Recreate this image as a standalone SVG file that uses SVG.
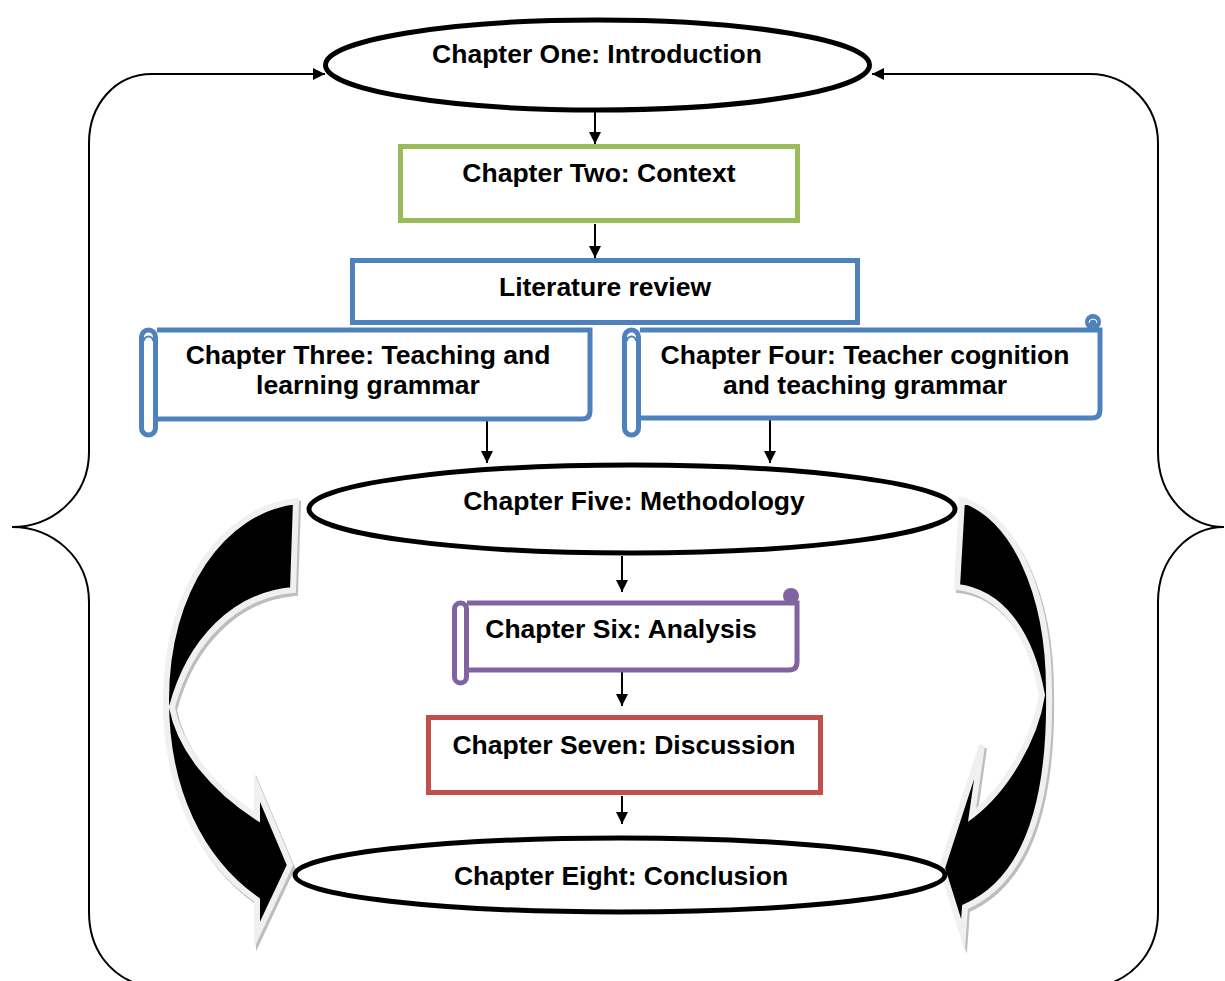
<svg xmlns="http://www.w3.org/2000/svg" width="1225" height="981" viewBox="0 0 1225 981">
<defs>
<style>
.t{font-family:"Liberation Sans",Arial,sans-serif;font-weight:bold;font-size:26.5px;fill:#000;text-anchor:middle}
.ell{fill:#fff;stroke:#000;stroke-width:5}
.conn{stroke:#000;stroke-width:2;fill:none}
.brace{stroke:#000;stroke-width:2;fill:none}
.bigarrow{fill:#000;stroke:#F0F0F0;stroke-width:6;stroke-linejoin:miter;stroke-miterlimit:10}
.shadow{fill:#BDBDBD;stroke:#BDBDBD;stroke-width:6;stroke-linejoin:miter;stroke-miterlimit:10}
.blue{stroke:#4F81BD}
.purple{stroke:#8064A2}
</style>
<marker id="ah" markerUnits="userSpaceOnUse" markerWidth="12" markerHeight="14" refX="12" refY="6" orient="auto">
<path d="M0,0 L12,6 L0,12 Z" fill="#000"/>
</marker>
</defs>
<rect width="1225" height="981" fill="#fff"/>

<g id="braces">
<path class="brace" d="M152 74 C115 74 89 105 89 143 V452 C89 497 52 527 12 527 C52 527 89 557 89 602 V912 C89 950 110 975 140 985"/>
<path class="brace" d="M1090 74 C1128 74 1158 105 1158 143 V452 C1158 497 1190 527 1224 527 C1190 527 1158 557 1158 602 V912 C1158 950 1136 975 1106 985"/>
</g>

<g id="big-arrows">
<g transform="translate(2,3)">
<path class="shadow" d="M296 501 C222 510 166 590 166 700 C166 790 200 860 257 900 L257 935 L290 865 L257 787 L257 817 C215 790 180 750 172 707 C190 640 235 595 293 590 Z"/>
<path class="shadow" d="M962 500 C1012 515 1049 590 1049 690 C1051 800 1027 880 965 907 L963 935 L942 868 L982 745 L972 815 C1005 790 1035 740 1042 695 C1030 630 1000 592 957 587 Z"/>
</g>
<path class="bigarrow" d="M296 501 C222 510 166 590 166 700 C166 790 200 860 257 900 L257 935 L290 865 L257 787 L257 817 C215 790 180 750 172 707 C190 640 235 595 293 590 Z"/>
<path class="bigarrow" d="M962 500 C1012 515 1049 590 1049 690 C1051 800 1027 880 965 907 L963 935 L942 868 L982 745 L972 815 C1005 790 1035 740 1042 695 C1030 630 1000 592 957 587 Z"/>
</g>

<g id="connectors">
<line class="conn" x1="152" y1="74" x2="325" y2="74" marker-end="url(#ah)"/>
<line class="conn" x1="1090" y1="74" x2="872" y2="74" marker-end="url(#ah)"/>
<line class="conn" x1="595" y1="112" x2="595" y2="144" marker-end="url(#ah)"/>
<line class="conn" x1="595" y1="224" x2="595" y2="258" marker-end="url(#ah)"/>
<line class="conn" x1="487" y1="418" x2="487" y2="463" marker-end="url(#ah)"/>
<line class="conn" x1="770" y1="418" x2="770" y2="463" marker-end="url(#ah)"/>
<line class="conn" x1="622" y1="556" x2="622" y2="592" marker-end="url(#ah)"/>
<line class="conn" x1="622" y1="672" x2="622" y2="706" marker-end="url(#ah)"/>
<line class="conn" x1="622" y1="796" x2="622" y2="824" marker-end="url(#ah)"/>
</g>

<g id="ch1">
<ellipse class="ell" cx="597.5" cy="65" rx="272" ry="45"/>
<text class="t" x="597" y="63">Chapter One: Introduction</text>
</g>

<g id="ch2">
<rect x="400.5" y="146.5" width="397" height="74" fill="#fff" stroke="#9BBB59" stroke-width="5"/>
<text class="t" x="599" y="182">Chapter Two: Context</text>
</g>

<g id="ch3">
<path class="blue" d="M157 330 H590 V411 Q590 419 582 419 H157" fill="#fff" stroke-width="5"/>
<rect class="blue" x="141.5" y="330" width="14" height="105" rx="7" fill="#fff" stroke-width="5"/>
<path class="blue" d="M144 341 A4 4 0 0 1 153 341" fill="none" stroke-width="2"/>
<text class="t" x="368" y="364">Chapter Three: Teaching and</text>
<text class="t" x="368" y="394">learning grammar</text>
</g>

<g id="lit">
<rect x="352.5" y="260.5" width="505" height="62" fill="#fff" stroke="#4F81BD" stroke-width="5"/>
<text class="t" x="605" y="296">Literature review</text>
</g>

<g id="ch4">
<path class="blue" d="M640 330 H1100 V410 Q1100 418 1092 418 H640" fill="#fff" stroke-width="5"/>
<circle cx="1093" cy="322" r="8" fill="#4F81BD"/>
<path d="M1089 323 A4 4 0 0 1 1097 323" fill="none" stroke="#fff" stroke-width="1"/>
<rect class="blue" x="624.5" y="330" width="14" height="105" rx="7" fill="#fff" stroke-width="5"/>
<path class="blue" d="M627 341 A4 4 0 0 1 636 341" fill="none" stroke-width="2"/>
<text class="t" x="865" y="364">Chapter Four: Teacher cognition</text>
<text class="t" x="865" y="394">and teaching grammar</text>
</g>

<g id="ch5">
<ellipse class="ell" cx="632" cy="509" rx="323" ry="44"/>
<text class="t" x="634" y="510">Chapter Five: Methodology</text>
</g>

<g id="ch6">
<path class="purple" d="M467 603 H797 V662 Q797 670 789 670 H467" fill="#fff" stroke-width="5"/>
<circle cx="791" cy="596" r="8" fill="#8064A2"/>
<rect class="purple" x="454.5" y="603" width="12" height="80" rx="6" fill="#fff" stroke-width="5"/>
<text class="t" x="621" y="638">Chapter Six: Analysis</text>
</g>

<g id="ch7">
<rect x="428.5" y="717.5" width="392" height="75" fill="#fff" stroke="#C0504D" stroke-width="5"/>
<text class="t" x="624" y="754">Chapter Seven: Discussion</text>
</g>

<g id="ch8">
<ellipse class="ell" cx="620" cy="875" rx="325" ry="37"/>
<text class="t" x="621" y="885">Chapter Eight: Conclusion</text>
</g>
</svg>
